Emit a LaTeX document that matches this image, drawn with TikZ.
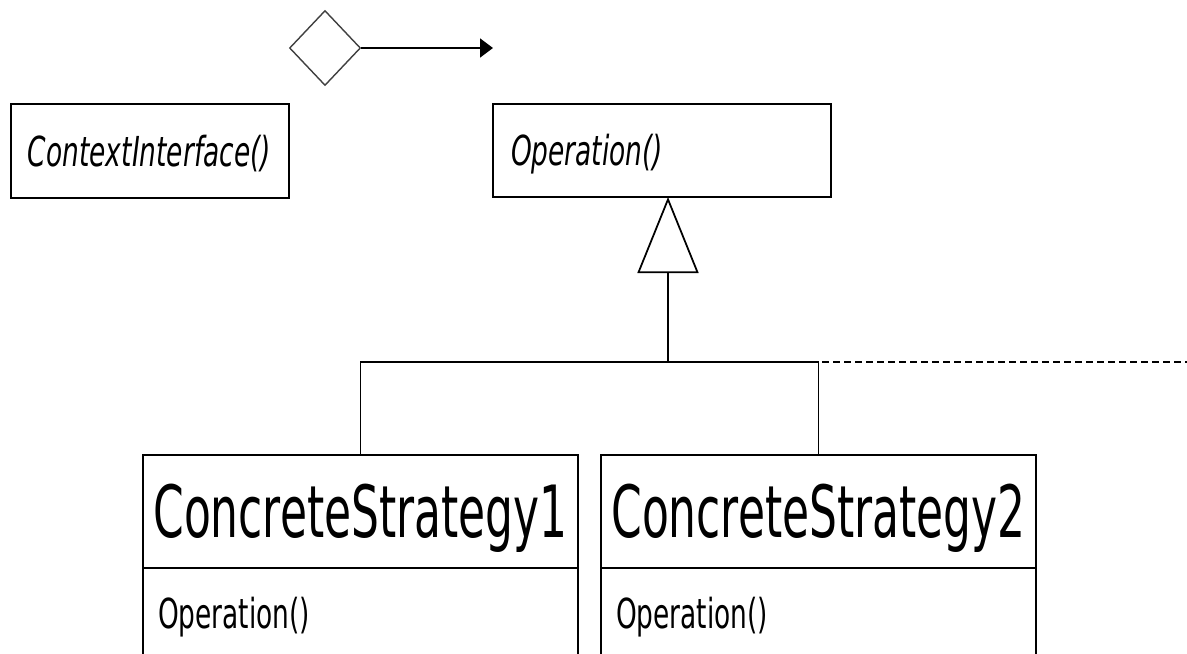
\documentclass[tikz,border=0pt]{standalone}
\usepackage{fontspec}
\setmainfont[FakeStretch=0.64]{DejaVu Sans}
\newfontfamily\namefont[FakeStretch=0.61]{DejaVu Sans}
\usetikzlibrary{arrows.meta, shapes.geometric}

\tikzset{
  umlbox/.style={draw, line width=1pt, outer sep=0pt, inner ysep=0pt, text depth=0pt, align=left},
  opfont/.style={font=\fontsize{23.5}{28}\selectfont},
  namebox/.style={umlbox, minimum width=87mm, minimum height=22.6mm, text height=29.9pt,
    align=center, font=\namefont\fontsize{41}{48}\selectfont},
  opsbox/.style={umlbox, opfont, anchor=north, text width=81mm, inner xsep=3mm,
    minimum height=18mm, text height=17.1pt}
}

\begin{document}
\begin{tikzpicture}[x=0.2mm, y=-0.2mm]
  \useasboundingbox (0,0) rectangle (1187,653);

  % context side
  \node[shape=diamond, draw=black!75, line width=0.8pt, inner sep=0pt,
        minimum width=14.2mm, minimum height=15mm] (agg) at (325,48) {};
  \coordinate (ref) at (493,48);
  \node[umlbox, opfont, text width=48.8mm, inner xsep=3.4mm, minimum height=18.8mm,
        text height=17.1pt] (context) at (150,151) {\itshape ContextInterface()};
  \draw[line width=1pt, -{Triangle[length=2.6mm, width=3.8mm]}] (agg) -- (ref);

  % strategy
  \node[umlbox, opfont, text width=60.4mm, inner xsep=3.6mm, minimum height=18.6mm,
        text height=17.1pt] (strategy) at (662,150.5) {\itshape Operation()};

  % concrete strategies
  \node[namebox] (cs1) at (360.5,511.5) {ConcreteStrategy1};
  \node[opsbox] (cs1ops) at (cs1.south) {Operation()};
  \node[namebox] (cs2) at (818.5,511.5) {ConcreteStrategy2};
  \node[opsbox] (cs2ops) at (cs2.south) {Operation()};

  % inheritance
  \coordinate (join) at (668,362);
  \coordinate (edge) at (1187,362);
  \draw[line width=1pt, -{Triangle[open, length=15.2mm, width=12.2mm]}]
    (join) -- (join |- strategy.south);
  \draw[line width=1pt] (cs1.north) -- (cs1.north |- join) -- (cs2.north |- join) -- (cs2.north);
  \draw[line width=1pt, dash pattern=on 1.4mm off 0.8mm] (join) -- (edge);
\end{tikzpicture}
\end{document}
